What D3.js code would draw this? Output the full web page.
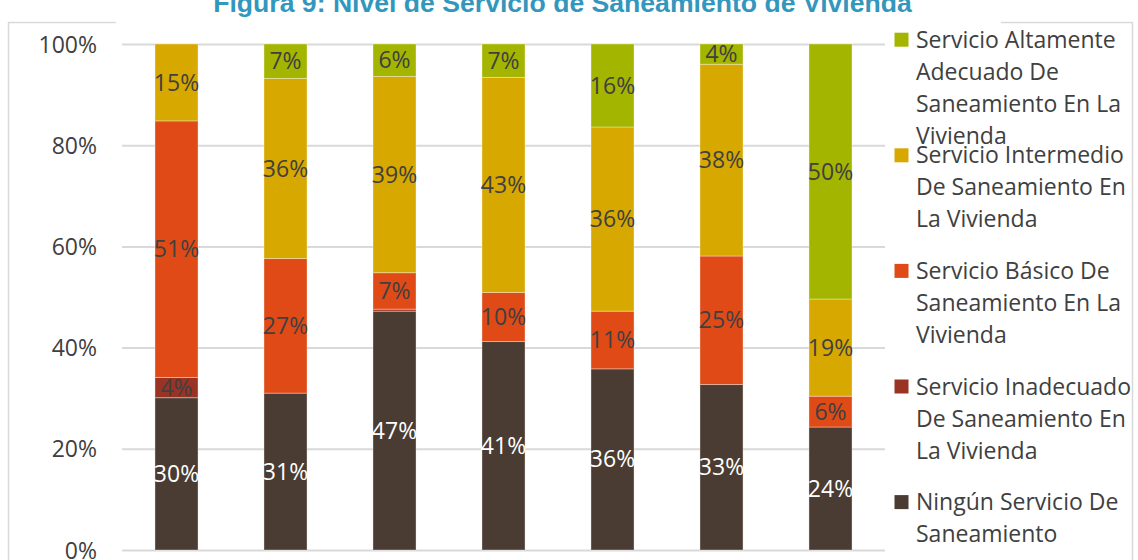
<!DOCTYPE html>
<html>
<head>
<meta charset="utf-8">
<script src="https://cdn.jsdelivr.net/npm/d3@7"></script>
<style>
html,body{margin:0;padding:0;background:#fff;}
svg{display:block;}
</style>
</head>
<body>
<svg id="chart" width="1138" height="560"></svg>
<script>
// ---- data ----
const title = "Figura 9: Nivel de Servicio de Saneamiento de Vivienda";
const categories = ["G1","G2","G3","G4","G5","G6","G7"];
const seriesNames = [
  "Ningún Servicio De Saneamiento",
  "Servicio Inadecuado De Saneamiento En La Vivienda",
  "Servicio Básico De Saneamiento En La Vivienda",
  "Servicio Intermedio De Saneamiento En La Vivienda",
  "Servicio Altamente Adecuado De Saneamiento En La Vivienda"
];
const ningun      = [30.1, 31.0, 47.2, 41.2, 35.8, 32.7, 24.3];
const inadecuado  = [ 4.0,  0.0,  0.4,  0.0,  0.0,  0.0,  0.0];
const basico      = [50.7, 26.6,  7.2,  9.7, 11.4, 25.4,  6.1];
const intermedio  = [15.2, 35.6, 38.8, 42.5, 36.4, 37.9, 19.2];
const altamente   = [ 0.0,  6.8,  6.4,  6.6, 16.4,  4.0, 50.4];
const yTicks = [0, 20, 40, 60, 80, 100];

// legend lines (order top to bottom, as displayed)
const legendLines = [
  ["Servicio Altamente","Adecuado De","Saneamiento En La","Vivienda"],
  ["Servicio Intermedio","De Saneamiento En","La Vivienda"],
  ["Servicio Básico De","Saneamiento En La","Vivienda"],
  ["Servicio Inadecuado","De Saneamiento En","La Vivienda"],
  ["Ningún Servicio De","Saneamiento"]
];

// ---- styles ----
const colors = ["#4a3c32", "#9b3324", "#df4a17", "#d7a800", "#a4b500"];
const labelColors = ["#ffffff", "#404040", "#404040", "#404040", "#404040"];
const FONT = "'Open Sans', 'Noto Sans', sans-serif";

const svg = d3.select("#chart");
const x = d3.scaleBand().domain(categories).range([122, 885]).paddingInner(0.605).paddingOuter(0.3025);
const y = d3.scaleLinear().domain([0, 100]).range([550, 44]);

// chart border
const bc = "#d9d9d9";
svg.append("line").attr("x1",8.5).attr("x2",8.5).attr("y1",22).attr("y2",570).attr("stroke",bc).attr("stroke-width",1.5);
svg.append("line").attr("x1",1132.5).attr("x2",1132.5).attr("y1",22).attr("y2",570).attr("stroke",bc).attr("stroke-width",1.5);
svg.append("line").attr("x1",8).attr("x2",116).attr("y1",22.5).attr("y2",22.5).attr("stroke",bc).attr("stroke-width",1.5);
svg.append("line").attr("x1",1001).attr("x2",1133).attr("y1",22.5).attr("y2",22.5).attr("stroke",bc).attr("stroke-width",1.5);

// title
const t = svg.append("text").attr("x", (213+912)/2).attr("y", 12)
  .attr("text-anchor","middle").attr("font-family","'Liberation Sans', Arial, sans-serif")
  .attr("font-weight","bold").attr("font-size",20).attr("fill","#3397bd").text(title);
const tl = t.node().getComputedTextLength();
t.attr("font-size", 20 * 699 / tl);

// gridlines + y axis
const yAxis = d3.axisLeft(y).tickValues(yTicks).tickSize(-(885-122)).tickFormat(d => d + "%");
const ga = svg.append("g").attr("transform","translate(122,0)").call(yAxis);
ga.select(".domain").remove();
ga.selectAll(".tick line").attr("stroke","#d9d9d9").attr("stroke-width",2);
ga.selectAll(".tick text").attr("x",-25).attr("dy","0.35em")
  .attr("font-family",FONT).attr("font-size",23).attr("fill","#404040");

// stacked data
const rows = categories.map((c,i) => ({cat:c, s0:ningun[i], s1:inadecuado[i], s2:basico[i], s3:intermedio[i], s4:altamente[i]}));
const keys = ["s0","s1","s2","s3","s4"];
const stacked = d3.stack().keys(keys)(rows);

const layers = svg.append("g").selectAll("g").data(stacked).join("g")
  .attr("fill", (d,i) => colors[i]);
layers.selectAll("rect").data(d => d.map(p => ({p, cat:p.data.cat}))).join("rect")
  .attr("x", d => x(d.cat))
  .attr("width", x.bandwidth())
  .attr("y", d => y(d.p[1]))
  .attr("height", d => y(d.p[0]) - y(d.p[1]))
  .attr("stroke","rgba(255,255,255,0.35)").attr("stroke-width",1);

// data labels
const lab = svg.append("g");
stacked.forEach((layer, i) => {
  layer.forEach(p => {
    const v = p[1] - p[0];
    if (v < 1) return;
    lab.append("text")
      .attr("x", x(p.data.cat) + x.bandwidth()/2)
      .attr("y", y((p[0]+p[1])/2))
      .attr("dy","0.35em").attr("text-anchor","middle")
      .attr("font-family",FONT).attr("font-size",23)
      .attr("fill", labelColors[i])
      .text(Math.round(v) + "%");
  });
});

// legend
const legendColors = [colors[4], colors[3], colors[2], colors[1], colors[0]];
const lg = svg.append("g");
legendLines.forEach((lines, i) => {
  const base = 47.7 + i * 115.6;
  lg.append("rect").attr("x",894.5).attr("y",base-15).attr("width",14).attr("height",14).attr("fill",legendColors[i]);
  lines.forEach((ln, k) => {
    lg.append("text").attr("x",916).attr("y",base + k*32)
      .attr("font-family",FONT).attr("font-size",23).attr("fill","#404040").text(ln);
  });
});
</script>
</body>
</html>
